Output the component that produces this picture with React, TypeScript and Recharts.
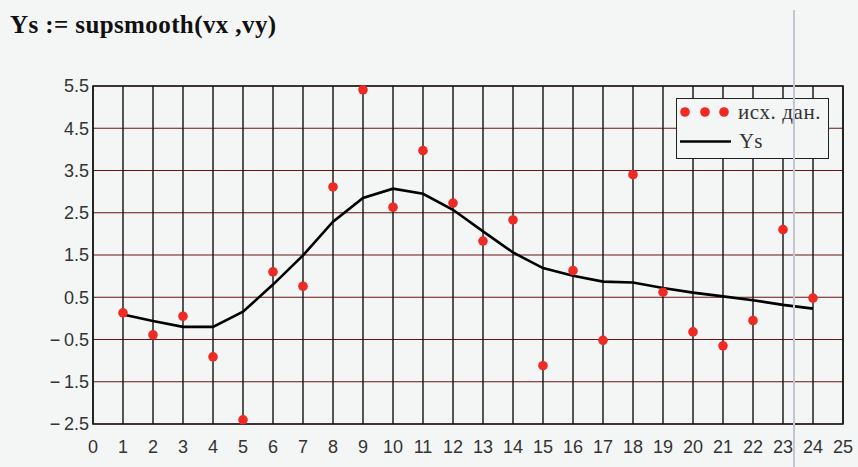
import { CartesianGrid, ComposedChart, Line, ReferenceArea, Scatter, XAxis, YAxis } from 'recharts';

// vx, vy and the supsmooth result
const vx = [1, 2, 3, 4, 5, 6, 7, 8, 9, 10, 11, 12, 13, 14, 15, 16, 17, 18, 19, 20, 21, 22, 23, 24];
const vy = [0.13, -0.39, 0.05, -0.91, -2.4, 1.1, 0.76, 3.11, 5.41, 2.63, 3.97, 2.73, 1.83, 2.33, -1.12, 1.13, -0.52, 3.4, 0.62, -0.32, -0.65, -0.05, 2.1, 0.48];
const ys = [0.09, -0.06, -0.2, -0.2, 0.16, 0.8, 1.49, 2.29, 2.85, 3.07, 2.95, 2.57, 2.06, 1.56, 1.19, 1.01, 0.87, 0.85, 0.72, 0.61, 0.52, 0.43, 0.32, 0.23];

const xTicks = [0, 1, 2, 3, 4, 5, 6, 7, 8, 9, 10, 11, 12, 13, 14, 15, 16, 17, 18, 19, 20, 21, 22, 23, 24, 25];
const yTicks = [-2.5, -1.5, -0.5, 0.5, 1.5, 2.5, 3.5, 4.5, 5.5];

const rows = vx.map((x, i) => ({ x, raw: vy[i], ys: ys[i] }));

const BG = '#f4f5f5';
const RED = '#ee2a24';
const tickStyle = { fontFamily: '"Liberation Sans", Arial, sans-serif', fontSize: 18, fill: '#333' };

// mathcad writes negatives as "− 0.5"
const fmtY = (v: number) => (v < 0 ? `\u2212\u2009${Math.abs(v).toFixed(1)}` : v.toFixed(1));

const Dot = (props: any) => <circle cx={props.cx} cy={props.cy} r={4.8} fill={RED} />;

export default function App() {
    return (
        <div style={{ position: 'relative', width: 858, height: 467, background: BG, overflow: 'hidden' }}>
            <style>{'body{margin:0}'}</style>
            <div
                style={{
                    position: 'absolute',
                    left: 10,
                    top: 11,
                    fontFamily: '"Liberation Serif", "Times New Roman", serif',
                    fontWeight: 'bold',
                    fontSize: 25,
                    letterSpacing: 0.4,
                    color: '#111',
                    whiteSpace: 'pre',
                }}
            >
                {'Ys := supsmooth(vx ,vy)'}
            </div>
            <ComposedChart width={858} height={467} data={rows} margin={{ top: 86, right: 15, bottom: 0, left: 0 }}>
                <CartesianGrid vertical={false} stroke="#6a1414" strokeWidth={1.2} />
                <CartesianGrid horizontal={false} stroke="#111" strokeWidth={1.4} />
                <XAxis
                    type="number"
                    dataKey="x"
                    domain={[0, 25]}
                    ticks={xTicks}
                    interval={0}
                    height={43}
                    axisLine={false}
                    tickLine={false}
                    tickSize={0}
                    tickMargin={16}
                    tick={tickStyle}
                />
                <YAxis
                    type="number"
                    domain={[-2.5, 5.5]}
                    ticks={yTicks}
                    interval={0}
                    width={93}
                    axisLine={false}
                    tickLine={false}
                    tickSize={0}
                    tickMargin={4}
                    tick={tickStyle}
                    tickFormatter={fmtY}
                />
                <ReferenceArea x1={0} x2={25} y1={-2.5} y2={5.5} fill="none" stroke="#1a1a1a" strokeWidth={1.6} ifOverflow="visible" />
                <Line type="linear" dataKey="ys" stroke="#000" strokeWidth={2.6} dot={false} isAnimationActive={false} />
                <Scatter dataKey="raw" shape={Dot} isAnimationActive={false} />
            </ComposedChart>
            <div
                style={{
                    position: 'absolute',
                    left: 676,
                    top: 98,
                    width: 151,
                    height: 59,
                    border: '1.5px solid #222',
                    background: BG,
                    fontFamily: '"Liberation Serif", "Times New Roman", serif',
                    fontSize: 21,
                    color: '#333',
                }}
            >
                <svg width={60} height={59} style={{ position: 'absolute', left: 0, top: 0 }}>
                    <circle cx={8} cy={13} r={4.8} fill={RED} />
                    <circle cx={28} cy={13} r={4.8} fill={RED} />
                    <circle cx={47} cy={13} r={4.8} fill={RED} />
                    <line x1={3} x2={54} y1={42.5} y2={42.5} stroke="#000" strokeWidth={2.6} />
                </svg>
                <div style={{ position: 'absolute', left: 61, top: 1, whiteSpace: 'pre', letterSpacing: 0.6 }}>исх. дан.</div>
                <div style={{ position: 'absolute', left: 62, top: 30 }}>Ys</div>
            </div>
            <div style={{ position: 'absolute', left: 793, top: 10, width: 2, height: 457, background: '#c3c6d0' }} />
        </div>
    );
}
